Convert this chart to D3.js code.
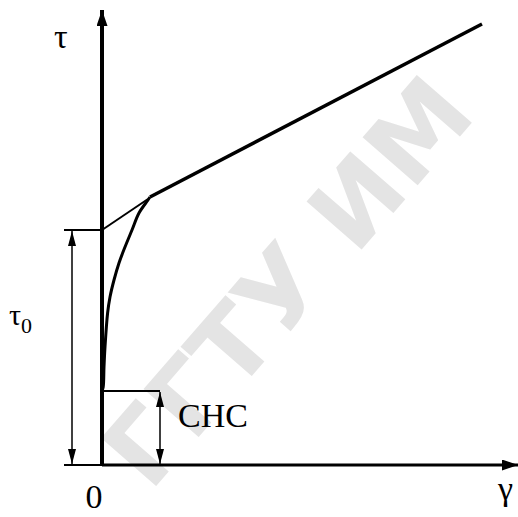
<!DOCTYPE html>
<html>
<head>
<meta charset="utf-8">
<script src="https://cdn.jsdelivr.net/npm/d3@7"></script>
<style>
  body { margin: 0; background: #fff; }
  svg { display: block; }
</style>
</head>
<body>
<svg id="chart"></svg>
<script>
// flow curve (gamma = shear rate, tau = stress)
const curveGamma = [0, 0.3, 0.5, 0.75, 1.4, 2, 3, 4.25, 5.75, 7.5, 9.25, 11.5, 12];
const curveTau = [18.5, 19.5, 24.5, 29.5, 38, 42, 46.25, 50.5, 54.5, 58.75, 63, 66.25, 67];

// straight part (Bingham line) and thin extension to the axis
const lineGamma = [12, 95];
const lineTau = [67, 110.25];
const tangentGamma = [0, 11.5];
const tangentTau = [58.75, 66.5];

const tau0 = 58.75;   // yield stress
const chc = 18.5;     // static shear stress

const labels = { y: 'τ', x: 'γ', origin: '0', tau0: 'τ', tau0Sub: '0', chc: 'CHC' };

const width = 518, height = 517;
const font = 'Liberation Serif';
const svg = d3.select('#chart').attr('width', width).attr('height', height);

const x = d3.scaleLinear().domain([0, 100]).range([102, 502]);
const y = d3.scaleLinear().domain([0, 100]).range([465, 65]);

// watermark
svg.append('text')
    .attr('transform', 'translate(150,493) rotate(-49)')
    .attr('font-family', 'DejaVu Sans')
    .attr('font-weight', 'bold')
    .attr('font-size', 100)
    .attr('fill', '#e4e4e4')
    .attr('textLength', 500)
    .attr('lengthAdjust', 'spacingAndGlyphs')
    .text('ГГТУ ИМ');

const defs = svg.append('defs');
function marker(id, w, l) {
    defs.append('marker')
        .attr('id', id)
        .attr('viewBox', `0 ${-w / 2} ${l} ${w}`)
        .attr('refX', l).attr('refY', 0)
        .attr('markerUnits', 'userSpaceOnUse')
        .attr('markerWidth', l).attr('markerHeight', w)
        .attr('orient', 'auto-start-reverse')
        .append('path')
        .attr('d', `M0,${-w / 2}L${l},0L0,${w / 2}Z`)
        .attr('fill', '#000');
}
marker('axisArrow', 11, 16);
marker('dimArrow', 8, 15);

const line = d3.line().x(d => x(d[0])).y(d => y(d[1]));

// axes
svg.append('line')
    .attr('x1', x(0)).attr('y1', y(0) + 1)
    .attr('x2', x(0)).attr('y2', 10)
    .attr('stroke', '#000').attr('stroke-width', 4)
    .attr('marker-end', 'url(#axisArrow)');
svg.append('line')
    .attr('x1', x(0)).attr('y1', y(0))
    .attr('x2', 518).attr('y2', y(0))
    .attr('stroke', '#000').attr('stroke-width', 3)
    .attr('marker-end', 'url(#axisArrow)');

// tau0 dimension
svg.append('line')
    .attr('x1', x(-9.5)).attr('x2', x(0))
    .attr('y1', y(tau0)).attr('y2', y(tau0))
    .attr('stroke', '#000').attr('stroke-width', 2);
svg.append('line')
    .attr('x1', x(-9.5)).attr('x2', x(0))
    .attr('y1', y(0)).attr('y2', y(0))
    .attr('stroke', '#000').attr('stroke-width', 2);
svg.append('line')
    .attr('x1', x(-7.5)).attr('x2', x(-7.5))
    .attr('y1', y(tau0) + 1).attr('y2', y(0) - 1)
    .attr('stroke', '#000').attr('stroke-width', 1.5)
    .attr('marker-start', 'url(#dimArrow)')
    .attr('marker-end', 'url(#dimArrow)');

// CHC dimension
svg.append('line')
    .attr('x1', x(0)).attr('x2', x(14.5))
    .attr('y1', y(chc)).attr('y2', y(chc))
    .attr('stroke', '#000').attr('stroke-width', 2);
svg.append('line')
    .attr('x1', x(14.5)).attr('x2', x(14.5))
    .attr('y1', y(chc) + 1).attr('y2', y(0) - 1)
    .attr('stroke', '#000').attr('stroke-width', 1.5)
    .attr('marker-start', 'url(#dimArrow)')
    .attr('marker-end', 'url(#dimArrow)');

// thin tangent
svg.append('path')
    .datum(d3.zip(tangentGamma, tangentTau))
    .attr('fill', 'none').attr('stroke', '#000').attr('stroke-width', 2)
    .attr('d', line);

// curve
svg.append('path')
    .datum(d3.zip(curveGamma, curveTau))
    .attr('fill', 'none').attr('stroke', '#000').attr('stroke-width', 3)
    .attr('d', d3.line().x(d => x(d[0])).y(d => y(d[1])).curve(d3.curveCatmullRom));

// straight part
svg.append('path')
    .datum(d3.zip(lineGamma, lineTau))
    .attr('fill', 'none').attr('stroke', '#000').attr('stroke-width', 3.5)
    .attr('d', line);

// labels
svg.append('text').attr('x', 54).attr('y', 48)
    .attr('font-family', font).attr('font-size', 34).text(labels.y);
svg.append('text').attr('x', 498).attr('y', 500)
    .attr('font-family', font).attr('font-size', 34).text(labels.x);
svg.append('text').attr('x', 94).attr('y', 508).attr('text-anchor', 'middle')
    .attr('font-family', font).attr('font-size', 34).text(labels.origin);
svg.append('text').attr('x', 178).attr('y', 427)
    .attr('font-family', font).attr('font-size', 34).text(labels.chc);
const t0 = svg.append('text').attr('x', 9).attr('y', 325)
    .attr('font-family', font).attr('font-size', 30);
t0.append('tspan').text(labels.tau0);
t0.append('tspan').attr('font-size', 22).attr('dy', 8).text(labels.tau0Sub);
</script>
</body>
</html>
